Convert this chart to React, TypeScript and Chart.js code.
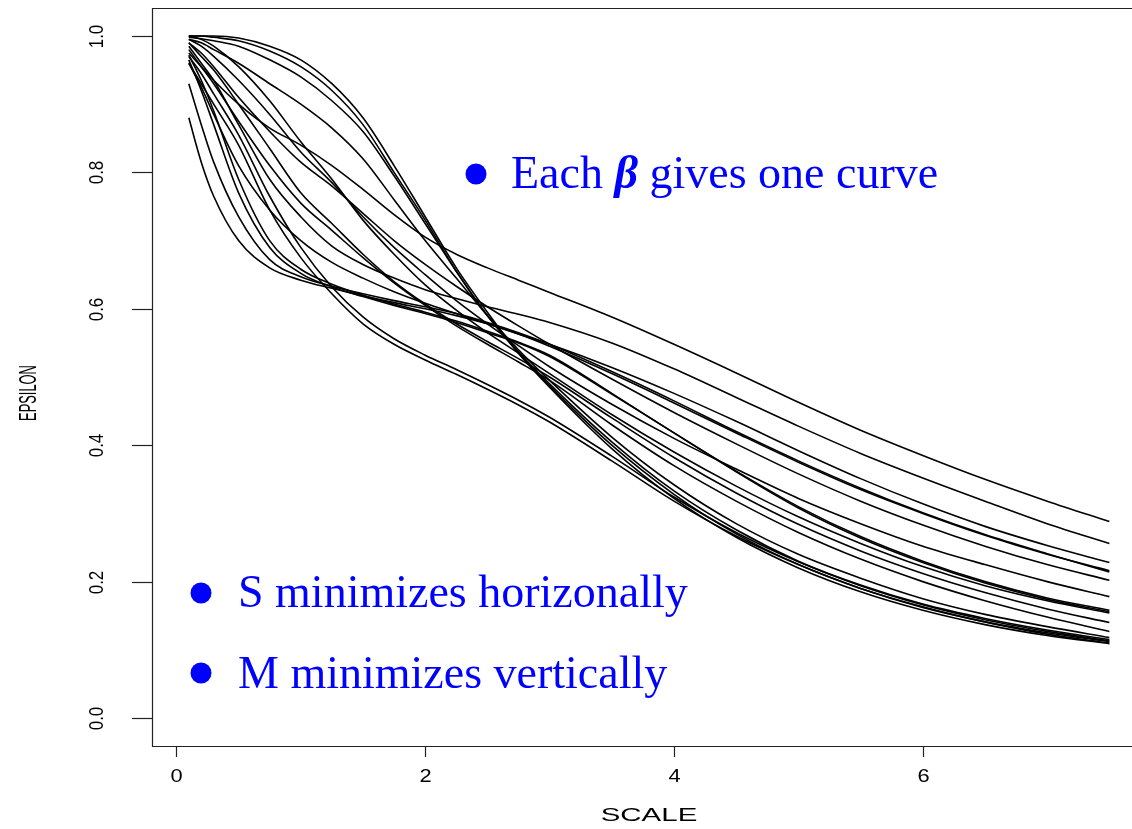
import React, { useEffect, useRef } from "react";
import { Chart, registerables } from "chart.js";

Chart.register(...registerables);

// shared SCALE grid
const scaleX = [0.1, 0.2, 0.3, 0.5, 0.75, 1, 1.25, 1.5, 1.75, 2, 2.25, 2.5, 2.75, 3, 3.5, 4, 4.5, 5, 5.5, 6, 6.5, 7, 7.5];

// EPSILON curves, one per beta
const curveA1 = [1.0, 1.0, 1.0, 0.997, 0.985, 0.965, 0.93, 0.88, 0.81, 0.735, 0.66, 0.595, 0.535, 0.485, 0.395, 0.322, 0.265, 0.22, 0.185, 0.158, 0.137, 0.121, 0.109];
const curveA2 = [1.0, 1.0, 0.998, 0.993, 0.978, 0.955, 0.92, 0.87, 0.8, 0.73, 0.655, 0.59, 0.535, 0.487, 0.4, 0.328, 0.27, 0.225, 0.19, 0.162, 0.141, 0.125, 0.112];
const curveA3 = [0.998, 0.996, 0.993, 0.985, 0.965, 0.94, 0.905, 0.86, 0.795, 0.725, 0.655, 0.59, 0.537, 0.49, 0.405, 0.333, 0.276, 0.23, 0.195, 0.167, 0.146, 0.129, 0.115];
const curveA4 = [0.995, 0.99, 0.98, 0.96, 0.93, 0.9, 0.865, 0.82, 0.76, 0.7, 0.645, 0.59, 0.54, 0.495, 0.412, 0.342, 0.285, 0.24, 0.205, 0.175, 0.152, 0.134, 0.118];
const curveB1 = [0.96, 0.93, 0.9, 0.84, 0.745, 0.675, 0.622, 0.578, 0.548, 0.525, 0.504, 0.482, 0.459, 0.434, 0.377, 0.318, 0.267, 0.225, 0.19, 0.163, 0.141, 0.123, 0.11];
const curveB2 = [0.97, 0.945, 0.915, 0.855, 0.765, 0.69, 0.632, 0.588, 0.556, 0.532, 0.511, 0.489, 0.466, 0.441, 0.384, 0.324, 0.272, 0.229, 0.194, 0.166, 0.144, 0.127, 0.113];
const curveH1 = [0.975, 0.955, 0.935, 0.9, 0.865, 0.84, 0.81, 0.775, 0.738, 0.705, 0.68, 0.66, 0.642, 0.624, 0.588, 0.548, 0.506, 0.463, 0.422, 0.385, 0.35, 0.318, 0.288];
const curveH2 = [0.985, 0.96, 0.935, 0.87, 0.79, 0.735, 0.692, 0.665, 0.645, 0.628, 0.615, 0.603, 0.592, 0.58, 0.55, 0.512, 0.47, 0.428, 0.388, 0.352, 0.318, 0.285, 0.256];
const curveH3 = [0.96, 0.925, 0.885, 0.81, 0.745, 0.7, 0.668, 0.645, 0.625, 0.608, 0.593, 0.578, 0.563, 0.548, 0.514, 0.476, 0.435, 0.392, 0.351, 0.314, 0.281, 0.253, 0.228];
const curveH4 = [0.99, 0.975, 0.955, 0.91, 0.86, 0.815, 0.78, 0.74, 0.7, 0.665, 0.633, 0.603, 0.575, 0.548, 0.497, 0.448, 0.402, 0.358, 0.318, 0.283, 0.252, 0.225, 0.202];
const curveC1 = [0.995, 0.985, 0.97, 0.935, 0.885, 0.83, 0.785, 0.735, 0.69, 0.65, 0.612, 0.578, 0.546, 0.515, 0.46, 0.41, 0.365, 0.322, 0.285, 0.252, 0.225, 0.2, 0.178];
const curveC2 = [1.0, 0.995, 0.985, 0.955, 0.905, 0.845, 0.79, 0.73, 0.68, 0.635, 0.598, 0.565, 0.535, 0.505, 0.445, 0.39, 0.34, 0.295, 0.256, 0.222, 0.194, 0.172, 0.154];
const curveC3 = [0.99, 0.97, 0.95, 0.9, 0.835, 0.77, 0.725, 0.68, 0.64, 0.607, 0.578, 0.552, 0.527, 0.5, 0.44, 0.382, 0.33, 0.284, 0.245, 0.212, 0.184, 0.16, 0.14];
const curveC4 = [0.98, 0.955, 0.93, 0.875, 0.81, 0.755, 0.715, 0.675, 0.638, 0.605, 0.575, 0.548, 0.522, 0.495, 0.43, 0.37, 0.318, 0.272, 0.233, 0.2, 0.172, 0.148, 0.127];
const curveP1 = [0.88, 0.815, 0.765, 0.7, 0.66, 0.642, 0.63, 0.619, 0.609, 0.6, 0.59, 0.578, 0.563, 0.545, 0.505, 0.462, 0.418, 0.375, 0.335, 0.3, 0.268, 0.24, 0.216];
const curveP2 = [0.93, 0.87, 0.815, 0.735, 0.672, 0.647, 0.633, 0.622, 0.612, 0.603, 0.593, 0.58, 0.565, 0.548, 0.508, 0.465, 0.42, 0.377, 0.337, 0.301, 0.269, 0.241, 0.214];
const curveP3 = [0.965, 0.92, 0.87, 0.77, 0.69, 0.652, 0.632, 0.618, 0.605, 0.593, 0.58, 0.565, 0.55, 0.53, 0.475, 0.418, 0.362, 0.31, 0.266, 0.23, 0.2, 0.176, 0.158];
const curveP4 = [0.972, 0.935, 0.89, 0.79, 0.7, 0.658, 0.636, 0.62, 0.607, 0.595, 0.582, 0.567, 0.551, 0.532, 0.476, 0.418, 0.361, 0.308, 0.264, 0.228, 0.198, 0.174, 0.156];

const curves = [curveA1, curveA2, curveA3, curveA4, curveB1, curveB2, curveH1, curveH2, curveH3, curveH4, curveC1, curveC2, curveC3, curveC4, curveP1, curveP2, curveP3, curveP4];

const xTicks = [0, 2, 4, 6];
const xTickLabels = ["0", "2", "4", "6"];
const yTicks = [0, 0.2, 0.4, 0.6, 0.8, 1.0];
const yTickLabels = ["0.0", "0.2", "0.4", "0.6", "0.8", "1.0"];
const xTitle = "SCALE";
const yTitle = "EPSILON";
const noteEach = ["Each ", "\u03B2", " gives one curve"];
const noteS = "S minimizes horizonally";
const noteM = "M minimizes vertically";

const W = 1132;
const H = 829;

const decorPlugin = {
  id: "decor",
  afterDraw(chart: any) {
    const ctx = chart.ctx as CanvasRenderingContext2D;
    const xs = chart.scales.x;
    const ys = chart.scales.y;
    const a = chart.chartArea;
    ctx.save();
    ctx.strokeStyle = "#222";
    ctx.lineWidth = 1.2;
    // box (right side falls outside the picture)
    ctx.beginPath();
    ctx.moveTo(W, a.top + 0.5);
    ctx.lineTo(a.left + 0.5, a.top + 0.5);
    ctx.lineTo(a.left + 0.5, a.bottom + 0.5);
    ctx.lineTo(W, a.bottom + 0.5);
    ctx.stroke();

    const sans = '"Liberation Sans", Arial, sans-serif';
    // y ticks
    ctx.fillStyle = "#000";
    yTicks.forEach((v, i) => {
      const py = Math.round(ys.getPixelForValue(v)) + 0.5;
      ctx.beginPath();
      ctx.moveTo(a.left - 20, py);
      ctx.lineTo(a.left, py);
      ctx.stroke();
      ctx.save();
      ctx.translate(97, py);
      ctx.rotate(-Math.PI / 2);
      ctx.scale(0.85, 1);
      ctx.font = `20px ${sans}`;
      ctx.textAlign = "center";
      ctx.textBaseline = "middle";
      ctx.fillText(yTickLabels[i], 0, 0);
      ctx.restore();
    });
    // x ticks
    xTicks.forEach((v, i) => {
      const px = Math.round(xs.getPixelForValue(v)) + 0.5;
      ctx.beginPath();
      ctx.moveTo(px, a.bottom);
      ctx.lineTo(px, a.bottom + 11);
      ctx.stroke();
      ctx.save();
      ctx.translate(px, 777);
      ctx.scale(1.15, 1);
      ctx.font = `19px ${sans}`;
      ctx.textAlign = "center";
      ctx.textBaseline = "middle";
      ctx.fillText(xTickLabels[i], 0, 0);
      ctx.restore();
    });
    // axis titles
    ctx.save();
    ctx.translate(649, 816);
    ctx.scale(1.55, 1);
    ctx.font = `19px ${sans}`;
    ctx.textAlign = "center";
    ctx.textBaseline = "middle";
    ctx.fillText(xTitle, 0, 0);
    ctx.restore();

    ctx.save();
    ctx.translate(30, 393);
    ctx.rotate(-Math.PI / 2);
    ctx.scale(0.56, 1);
    ctx.font = `23px ${sans}`;
    ctx.textAlign = "center";
    ctx.textBaseline = "middle";
    ctx.fillText(yTitle, 0, 0);
    ctx.restore();

    // blue notes
    ctx.fillStyle = "#0000ff";
    const bullet = (x: number, y: number) => {
      ctx.beginPath();
      ctx.arc(x, y, 10.5, 0, Math.PI * 2);
      ctx.fill();
    };
    ctx.textAlign = "left";
    ctx.textBaseline = "alphabetic";
    bullet(476, 174);
    let tx = 511;
    const serif = '"Liberation Serif", "Times New Roman", serif';
    ctx.font = `46px ${serif}`;
    ctx.fillText(noteEach[0], tx, 188);
    tx += ctx.measureText(noteEach[0]).width;
    ctx.font = `italic bold 46px ${serif}`;
    ctx.fillText(noteEach[1], tx, 188);
    tx += ctx.measureText(noteEach[1]).width;
    ctx.font = `46px ${serif}`;
    ctx.fillText(noteEach[2], tx, 188);

    bullet(201, 593);
    ctx.fillText(noteS, 238, 607);
    bullet(201, 673);
    ctx.fillText(noteM, 238, 688);
    ctx.restore();
  },
};

export default function App() {
  const ref = useRef<HTMLCanvasElement | null>(null);
  useEffect(() => {
    if (!ref.current) return;
    const chart = new Chart(ref.current, {
      type: "line",
      data: {
        datasets: curves.map((c, k) => ({
          label: "beta " + (k + 1),
          data: scaleX.map((x, i) => ({ x, y: c[i] })),
          borderColor: "#000",
          borderWidth: 1.6,
          pointRadius: 0,
          fill: false,
          cubicInterpolationMode: "monotone" as const,
        })),
      },
      options: {
        responsive: false,
        animation: false,
        layout: { padding: { left: 152, top: 8, right: 0, bottom: H - 746 } },
        plugins: { legend: { display: false }, tooltip: { enabled: false } },
        scales: {
          x: { type: "linear", min: -0.196, max: 7.682, display: false },
          y: { type: "linear", min: -0.041, max: 1.041, display: false },
        },
      },
      plugins: [decorPlugin],
    });
    return () => chart.destroy();
  }, []);
  return (
    <div style={{ position: "fixed", left: 0, top: 0, width: W, height: H, background: "#fff" }}>
      <canvas ref={ref} width={W} height={H} style={{ display: "block" }} />
    </div>
  );
}
